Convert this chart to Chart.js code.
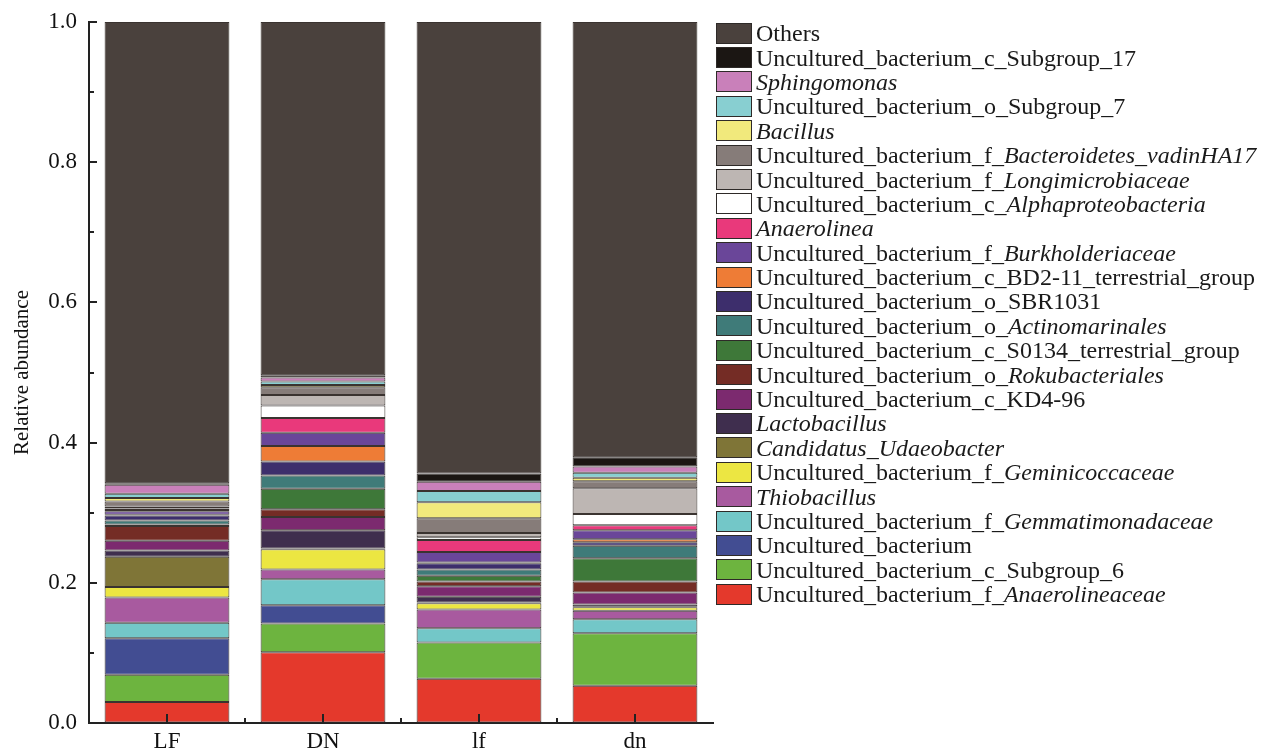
<!DOCTYPE html>
<html><head><meta charset="utf-8">
<script src="https://cdn.jsdelivr.net/npm/chart.js@4.4.0/dist/chart.umd.min.js"></script>
<style>
html,body{margin:0;padding:0;background:#fff;width:1264px;height:751px;overflow:hidden;}
#wrap{position:relative;width:1264px;height:751px;}
#c{position:absolute;left:0;top:0;}
#legend{position:absolute;left:716px;top:21px;font-family:"Liberation Serif","Times New Roman",serif;font-size:24px;color:#1a1a1a;line-height:24px;}
.row{height:24.4px;display:flex;align-items:center;white-space:nowrap;}
.box{width:36px;height:21px;border:1.5px solid #2e2a28;margin-right:4px;box-sizing:border-box;flex:none;}
</style></head>
<body><div id="wrap"><canvas id="c" width="1264" height="751"></canvas><div id="legend"></div></div>
<script>
const categories = ['LF','DN','lf','dn'];
const yTicks = [0, 0.2, 0.4, 0.6, 0.8, 1.0];

// series, bottom of stack first
const seriesNames = [
 'Uncultured_bacterium_f_Anaerolineaceae',
 'Uncultured_bacterium_c_Subgroup_6',
 'Uncultured_bacterium',
 'Uncultured_bacterium_f_Gemmatimonadaceae',
 'Thiobacillus',
 'Uncultured_bacterium_f_Geminicoccaceae',
 'Candidatus_Udaeobacter',
 'Lactobacillus',
 'Uncultured_bacterium_c_KD4-96',
 'Uncultured_bacterium_o_Rokubacteriales',
 'Uncultured_bacterium_c_S0134_terrestrial_group',
 'Uncultured_bacterium_o_Actinomarinales',
 'Uncultured_bacterium_o_SBR1031',
 'Uncultured_bacterium_c_BD2-11_terrestrial_group',
 'Uncultured_bacterium_f_Burkholderiaceae',
 'Anaerolinea',
 'Uncultured_bacterium_c_Alphaproteobacteria',
 'Uncultured_bacterium_f_Longimicrobiaceae',
 'Uncultured_bacterium_f_Bacteroidetes_vadinHA17',
 'Bacillus',
 'Uncultured_bacterium_o_Subgroup_7',
 'Sphingomonas',
 'Uncultured_bacterium_c_Subgroup_17',
 'Others'
];
// italic part of each name ('' = none)
const italicParts = [
 'Anaerolineaceae','','','Gemmatimonadaceae','Thiobacillus','Geminicoccaceae',
 'Candidatus_Udaeobacter','Lactobacillus','','Rokubacteriales','','Actinomarinales',
 '','','Burkholderiaceae','Anaerolinea','Alphaproteobacteria','Longimicrobiaceae',
 'Bacteroidetes_vadinHA17','Bacillus','','Sphingomonas','',''
];
const seriesColors = [
 '#e4392c','#6db43f','#424d92','#73c7c8','#a85a9f','#ece642','#7f7537','#3f2e4e',
 '#7c2a6f','#742c25','#3e7839','#3f7b79','#3d2e6c','#ee7c36','#6a4699','#e9397b',
 '#ffffff','#bdb6b3','#867c79','#f1e97c','#88cfd1','#c980ba','#1b1613','#4a413d'
];

// values per category: LF, DN, lf, dn
const vAnaerolineaceae   = [0.030, 0.101, 0.063, 0.053];
const vSubgroup6         = [0.039, 0.041, 0.052, 0.075];
const vUncultured        = [0.052, 0.026, 0.000, 0.000];
const vGemmatimonadaceae = [0.022, 0.037, 0.020, 0.020];
const vThiobacillus      = [0.036, 0.014, 0.027, 0.012];
const vGeminicoccaceae   = [0.015, 0.029, 0.009, 0.005];
const vCandidatus        = [0.043, 0.001, 0.001, 0.001];
const vLactobacillus     = [0.009, 0.026, 0.008, 0.003];
const vKD496             = [0.014, 0.019, 0.015, 0.017];
const vRokubacteriales   = [0.021, 0.011, 0.007, 0.016];
const vS0134             = [0.002, 0.029, 0.008, 0.033];
const vActinomarinales   = [0.006, 0.019, 0.009, 0.018];
const vSBR1031           = [0.007, 0.020, 0.009, 0.005];
const vBD211             = [0.001, 0.022, 0.001, 0.004];
const vBurkholderiaceae  = [0.005, 0.019, 0.015, 0.013];
const vAnaerolinea       = [0.002, 0.021, 0.017, 0.007];
const vAlphaproteo       = [0.002, 0.018, 0.004, 0.016];
const vLongimicrobiaceae = [0.003, 0.015, 0.006, 0.037];
const vBacteroidetes     = [0.007, 0.011, 0.021, 0.010];
const vBacillus          = [0.005, 0.003, 0.023, 0.005];
const vSubgroup7         = [0.006, 0.005, 0.016, 0.007];
const vSphingomonas      = [0.013, 0.006, 0.013, 0.009];
const vSubgroup17        = [0.002, 0.003, 0.012, 0.013];
const vOthers            = [0.658, 0.504, 0.644, 0.621];

const seriesValues = [vAnaerolineaceae,vSubgroup6,vUncultured,vGemmatimonadaceae,vThiobacillus,
 vGeminicoccaceae,vCandidatus,vLactobacillus,vKD496,vRokubacteriales,vS0134,vActinomarinales,
 vSBR1031,vBD211,vBurkholderiaceae,vAnaerolinea,vAlphaproteo,vLongimicrobiaceae,vBacteroidetes,
 vBacillus,vSubgroup7,vSphingomonas,vSubgroup17,vOthers];

const SERIF = '"Liberation Serif","Times New Roman",serif';
const AXIS = '#222';

const datasets = seriesNames.map((n,i)=>({
  label:n, data:seriesValues[i], backgroundColor:seriesColors[i],
  borderColor:'#3a3330', borderWidth:1, borderSkipped:false,
  barPercentage:0.8, categoryPercentage:1.0
}));

const innerTicks = {
  id:'innerTicks',
  afterDraw(chart){
    const {ctx, chartArea:a, scales:{x,y}} = chart;
    ctx.save(); ctx.strokeStyle=AXIS; ctx.lineWidth=2;
    for(let v=0; v<=10; v++){
      const py = Math.round(y.getPixelForValue(v/10));
      const len = (v%2===0)?8:5;
      ctx.beginPath(); ctx.moveTo(a.left, py); ctx.lineTo(a.left+len, py); ctx.stroke();
    }
    for(let i=0;i<categories.length;i++){
      const px = Math.round(x.getPixelForValue(i));
      ctx.beginPath(); ctx.moveTo(px, a.bottom); ctx.lineTo(px, a.bottom-9); ctx.stroke();
      if(i>0){
        const bx = Math.round((x.getPixelForValue(i)+x.getPixelForValue(i-1))/2);
        ctx.beginPath(); ctx.moveTo(bx, a.bottom); ctx.lineTo(bx, a.bottom-5); ctx.stroke();
      }
    }
    ctx.restore();
  }
};

const htmlLegend = {
  id:'htmlLegend',
  afterUpdate(chart){
    const el = document.getElementById('legend');
    el.innerHTML='';
    const ds = chart.data.datasets;
    for(let k=ds.length-1;k>=0;k--){
      const row=document.createElement('div'); row.className='row';
      const box=document.createElement('span'); box.className='box';
      box.style.background=ds[k].backgroundColor;
      row.appendChild(box);
      const name=ds[k].label, it=italicParts[k];
      const txt=document.createElement('span');
      if(it){
        const idx=name.lastIndexOf(it);
        if(idx>0){ txt.appendChild(document.createTextNode(name.slice(0,idx))); }
        const em=document.createElement('i'); em.textContent=it; txt.appendChild(em);
      } else txt.textContent=name;
      row.appendChild(txt);
      el.appendChild(row);
    }
  }
};

new Chart(document.getElementById('c'), {
  type:'bar',
  data:{labels:categories, datasets},
  options:{
    responsive:false, animation:false, devicePixelRatio:1,
    layout:{padding:{left:0, top:22, right:551, bottom:0}},
    plugins:{legend:{display:false}, tooltip:{enabled:false}},
    scales:{
      x:{stacked:true,
         grid:{display:true, drawOnChartArea:false, drawTicks:false},
         border:{display:true, color:AXIS, width:2},
         ticks:{font:{family:SERIF,size:23}, color:'#111', padding:5},
         afterFit(s){ s.height=28; s.paddingLeft=0; s.paddingRight=0; }
      },
      y:{stacked:true, min:0, max:1,
         grid:{display:true, drawOnChartArea:false, drawTicks:false},
         border:{display:true, color:AXIS, width:2},
         afterBuildTicks(s){ s.ticks = yTicks.map(v=>({value:v})); },
         ticks:{font:{family:SERIF,size:23}, color:'#111', padding:12,
                callback:(v)=>Number(v).toFixed(1)},
         title:{display:true, text:'Relative abundance', font:{family:SERIF,size:21}, color:'#111', padding:{top:10,bottom:0}},
         afterFit(s){ s.width=89; s.paddingTop=0; s.paddingBottom=0; }
      }
    }
  },
  plugins:[innerTicks, htmlLegend]
});
</script>
</body></html>
